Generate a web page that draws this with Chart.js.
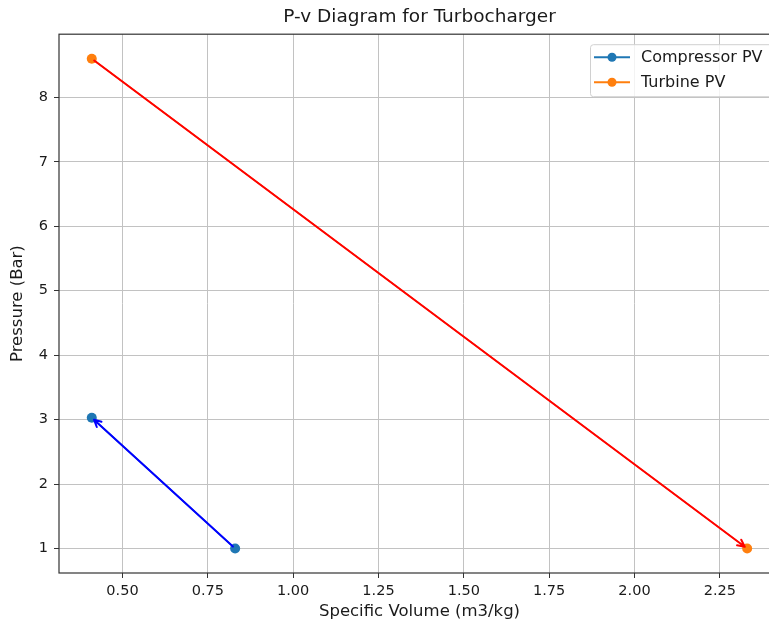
<!DOCTYPE html>
<html>
<head>
<meta charset="utf-8">
<title>P-v Diagram for Turbocharger</title>
<script src="https://cdn.jsdelivr.net/npm/chart.js@4.4.1/dist/chart.umd.min.js"></script>
<style>
  html, body { margin: 0; padding: 0; background: #fff; }
</style>
</head>
<body>
<canvas id="pvChart" width="769" height="629"></canvas>
<script>
// state points: specific volume (m3/kg) and pressure (bar)
const compressorV = [0.83, 0.41];
const compressorP = [1.0, 3.03];
const turbineV = [0.41, 2.33];
const turbineP = [8.6, 1.0];

const seriesNames = ['Compressor PV', 'Turbine PV'];
const seriesColors = ['#1f77b4', '#ff7f0e'];
const arrowColors = ['#0000ff', '#ff0000'];

const xTicks = [0.5, 0.75, 1.0, 1.25, 1.5, 1.75, 2.0, 2.25];
const yTicks = [1, 2, 3, 4, 5, 6, 7, 8];

const FONT = 'DejaVu Sans';
const INK = '#1a1a1a';
// the axes box runs this far past the right edge of the canvas
const OVERHANG = 11;

const toPoints = (xs, ys) => xs.map((x, i) => ({x: x, y: ys[i]}));

// centre the title and x label on the full axes box, not only the visible part
const overhangPlugin = {
  id: 'overhang',
  afterLayout(chart) {
    const right = chart.chartArea.right + OVERHANG;
    if (chart.titleBlock) chart.titleBlock.right = right;
    chart.scales.x.right = right;
  }
};

// arrow from the first to the second point of every series
const arrowPlugin = {
  id: 'pvArrows',
  afterDatasetsDraw(chart) {
    const ctx = chart.ctx;
    chart.data.datasets.forEach((ds, i) => {
      const pts = chart.getDatasetMeta(i).data;
      if (pts.length < 2) return;
      const a = pts[0], b = pts[1];
      const dx = b.x - a.x, dy = b.y - a.y;
      const len = Math.hypot(dx, dy);
      const ux = dx / len, uy = dy / len;
      const shrink = 3;
      const x0 = a.x + ux * shrink, y0 = a.y + uy * shrink;
      const x1 = b.x - ux * shrink, y1 = b.y - uy * shrink;
      const hl = 7, hw = 3.5;
      const hx = x1 - ux * hl, hy = y1 - uy * hl;
      ctx.save();
      ctx.strokeStyle = arrowColors[i];
      ctx.lineWidth = 2;
      ctx.lineCap = 'round';
      ctx.lineJoin = 'round';
      ctx.beginPath();
      ctx.moveTo(x0, y0);
      ctx.lineTo(x1, y1);
      ctx.moveTo(hx - uy * hw, hy + ux * hw);
      ctx.lineTo(x1, y1);
      ctx.lineTo(hx + uy * hw, hy - ux * hw);
      ctx.stroke();
      ctx.restore();
    });
  }
};

// axes frame: top, left and bottom (the right side is past the edge)
const framePlugin = {
  id: 'frame',
  beforeDatasetsDraw(chart) {
    const {ctx, chartArea: c} = chart;
    const r = c.right + OVERHANG;
    ctx.save();
    ctx.strokeStyle = '#333333';
    ctx.lineWidth = 1.2;
    ctx.strokeRect(c.left, c.top, r - c.left, c.bottom - c.top);
    ctx.restore();
  }
};

// legend box in the upper right corner of the plot
const legendPlugin = {
  id: 'boxLegend',
  afterDraw(chart) {
    const {ctx, chartArea: c} = chart;
    const boxW = 183, boxH = 52;
    const bx = c.right + OVERHANG - 7 - boxW, by = c.top + 10;
    ctx.save();
    ctx.fillStyle = 'rgba(255,255,255,0.8)';
    ctx.strokeStyle = '#d0d0d0';
    ctx.lineWidth = 1;
    ctx.beginPath();
    ctx.roundRect(bx + 0.5, by + 0.5, boxW, boxH, 3);
    ctx.fill();
    ctx.stroke();
    chart.data.datasets.forEach((ds, i) => {
      const y = by + 13 + i * 25;
      ctx.strokeStyle = ds.borderColor;
      ctx.lineWidth = 2;
      ctx.beginPath();
      ctx.moveTo(bx + 4, y);
      ctx.lineTo(bx + 40, y);
      ctx.stroke();
      ctx.fillStyle = ds.pointBackgroundColor;
      ctx.beginPath();
      ctx.arc(bx + 22, y, 4.5, 0, Math.PI * 2);
      ctx.fill();
      ctx.fillStyle = INK;
      ctx.font = '16px "' + FONT + '"';
      ctx.textBaseline = 'middle';
      ctx.fillText(ds.label, bx + 51, y + 1);
    });
    ctx.restore();
  }
};

const datasets = [
  toPoints(compressorV, compressorP),
  toPoints(turbineV, turbineP)
].map((pts, i) => ({
  label: seriesNames[i],
  data: pts,
  showLine: true,
  borderColor: seriesColors[i],
  borderWidth: 1.5,
  pointRadius: 5,
  pointBorderWidth: 0,
  pointBackgroundColor: seriesColors[i],
  pointHoverRadius: 5
}));

const tickFont = {family: FONT, size: 14.5};
const labelFont = {family: FONT, size: 16.5};

const config = {
  type: 'scatter',
  data: {datasets},
  options: {
    responsive: false,
    animation: false,
    devicePixelRatio: 1,
    layout: {padding: 0, autoPadding: false},
    plugins: {
      legend: {display: false},
      tooltip: {enabled: false},
      title: {
        display: true,
        text: 'P-v Diagram for Turbocharger',
        fullSize: false,
        color: INK,
        font: {family: FONT, size: 18.5, weight: 'normal'},
        padding: {top: 6, bottom: 6}
      }
    },
    scales: {
      x: {
        type: 'linear',
        min: 0.314,
        max: 2.394,
        afterBuildTicks: (scale) => { scale.ticks = xTicks.map(v => ({value: v})); },
        afterFit: (scale) => {
          scale.height = 56;
          scale.paddingLeft = 0;
          scale.paddingRight = 0;
        },
        grid: {color: '#c2c2c2', lineWidth: 1, tickColor: '#333333', tickLength: 5},
        border: {display: false},
        ticks: {
          color: INK,
          font: tickFont,
          padding: 5,
          maxRotation: 0,
          callback: (v) => Number(v).toFixed(2)
        },
        title: {
          display: true,
          text: 'Specific Volume (m3/kg)',
          color: INK,
          font: labelFont,
          padding: {top: 0, bottom: 7}
        }
      },
      y: {
        type: 'linear',
        min: 0.62,
        max: 8.98,
        afterBuildTicks: (scale) => { scale.ticks = yTicks.map(v => ({value: v})); },
        afterFit: (scale) => {
          scale.width = 59;
          scale.paddingTop = 0;
          scale.paddingBottom = 0;
        },
        grid: {color: '#c2c2c2', lineWidth: 1, tickColor: '#333333', tickLength: 5},
        border: {display: false},
        ticks: {
          color: INK,
          font: tickFont,
          padding: 6,
          callback: (v) => String(v)
        },
        title: {
          display: true,
          text: 'Pressure (Bar)',
          color: INK,
          font: labelFont,
          padding: {top: 8, bottom: 0}
        }
      }
    }
  },
  plugins: [overhangPlugin, framePlugin, arrowPlugin, legendPlugin]
};

const pvChart = new Chart(document.getElementById('pvChart'), config);
</script>
</body>
</html>
